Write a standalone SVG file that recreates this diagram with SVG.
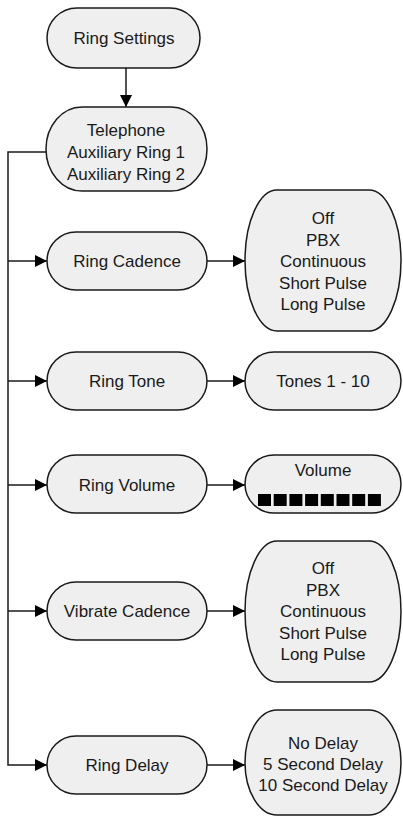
<svg xmlns="http://www.w3.org/2000/svg" width="403" height="817" viewBox="0 0 403 817">
<defs>
<style>
.n{fill:#efefef;stroke:#1a1a1a;stroke-width:1.5}
.t{font-family:"Liberation Sans",Arial,sans-serif;font-size:17px;fill:#1a1a1a;text-anchor:middle}
.c{fill:none;stroke:#1a1a1a;stroke-width:1.5}
</style>
<marker id="ah" markerWidth="12" markerHeight="12" refX="12" refY="6" orient="auto" markerUnits="userSpaceOnUse">
<path d="M0,0 L12,6 L0,12 Z" fill="#000"/>
</marker>
</defs>
<rect width="403" height="817" fill="#fff"/>
<g id="connectors">
<path class="c" d="M126,68 V107" marker-end="url(#ah)"/>
<path class="c" d="M46,152 H8 V765 H47" marker-end="url(#ah)"/>
<path class="c" d="M8,261 H47" marker-end="url(#ah)"/>
<path class="c" d="M8,381 H47" marker-end="url(#ah)"/>
<path class="c" d="M8,485 H47" marker-end="url(#ah)"/>
<path class="c" d="M8,611 H47" marker-end="url(#ah)"/>
<path class="c" d="M207,261 H245" marker-end="url(#ah)"/>
<path class="c" d="M207,381 H245" marker-end="url(#ah)"/>
<path class="c" d="M207,485 H245" marker-end="url(#ah)"/>
<path class="c" d="M207,611 H245" marker-end="url(#ah)"/>
<path class="c" d="M207,765 H245" marker-end="url(#ah)"/>
</g>
<g id="ring-settings">
<rect class="n" x="47" y="8" width="153" height="60" rx="30" ry="30"/>
<text class="t" x="124" y="44">Ring Settings</text>
</g>
<g id="telephone">
<rect class="n" x="46" y="107" width="161" height="84" rx="36" ry="42"/>
<text class="t" x="126" y="136">Telephone</text>
<text class="t" x="126" y="158">Auxiliary Ring 1</text>
<text class="t" x="126" y="180">Auxiliary Ring 2</text>
</g>
<g id="ring-cadence">
<rect class="n" x="47" y="232" width="160" height="58" rx="29" ry="29"/>
<text class="t" x="127" y="267">Ring Cadence</text>
</g>
<g id="cadence-options">
<rect class="n" x="245" y="190" width="156" height="141" rx="32" ry="70.5"/>
<text class="t" x="323" y="224">Off</text>
<text class="t" x="323" y="246">PBX</text>
<text class="t" x="323" y="267">Continuous</text>
<text class="t" x="323" y="289">Short Pulse</text>
<text class="t" x="323" y="310">Long Pulse</text>
</g>
<g id="ring-tone">
<rect class="n" x="47" y="352" width="160" height="58" rx="29" ry="29"/>
<text class="t" x="127" y="387">Ring Tone</text>
</g>
<g id="tones">
<rect class="n" x="245" y="352" width="156" height="58" rx="29" ry="29"/>
<text class="t" x="323" y="387">Tones 1 - 10</text>
</g>
<g id="ring-volume">
<rect class="n" x="47" y="455" width="160" height="58" rx="29" ry="29"/>
<text class="t" x="127" y="491">Ring Volume</text>
</g>
<g id="volume">
<rect class="n" x="245" y="455" width="156" height="58" rx="29" ry="29"/>
<text class="t" x="323" y="476">Volume</text>
<g fill="#000">
<rect x="258" y="494" width="13" height="12"/>
<rect x="273.7" y="494" width="13" height="12"/>
<rect x="289.4" y="494" width="13" height="12"/>
<rect x="305.1" y="494" width="13" height="12"/>
<rect x="320.8" y="494" width="13" height="12"/>
<rect x="336.5" y="494" width="13" height="12"/>
<rect x="352.2" y="494" width="13" height="12"/>
<rect x="367.9" y="494" width="13" height="12"/>
</g>
</g>
<g id="vibrate-cadence">
<rect class="n" x="47" y="582" width="160" height="58" rx="29" ry="29"/>
<text class="t" x="127" y="617">Vibrate Cadence</text>
</g>
<g id="vibrate-options">
<rect class="n" x="245" y="541" width="156" height="141" rx="32" ry="70.5"/>
<text class="t" x="323" y="574">Off</text>
<text class="t" x="323" y="596">PBX</text>
<text class="t" x="323" y="617">Continuous</text>
<text class="t" x="323" y="639">Short Pulse</text>
<text class="t" x="323" y="660">Long Pulse</text>
</g>
<g id="ring-delay">
<rect class="n" x="47" y="736" width="160" height="58" rx="29" ry="29"/>
<text class="t" x="127" y="771">Ring Delay</text>
</g>
<g id="delay-options">
<rect class="n" x="245" y="710" width="156" height="105" rx="32" ry="52.5"/>
<text class="t" x="323" y="749">No Delay</text>
<text class="t" x="323" y="770">5 Second Delay</text>
<text class="t" x="323" y="791">10 Second Delay</text>
</g>
</svg>
